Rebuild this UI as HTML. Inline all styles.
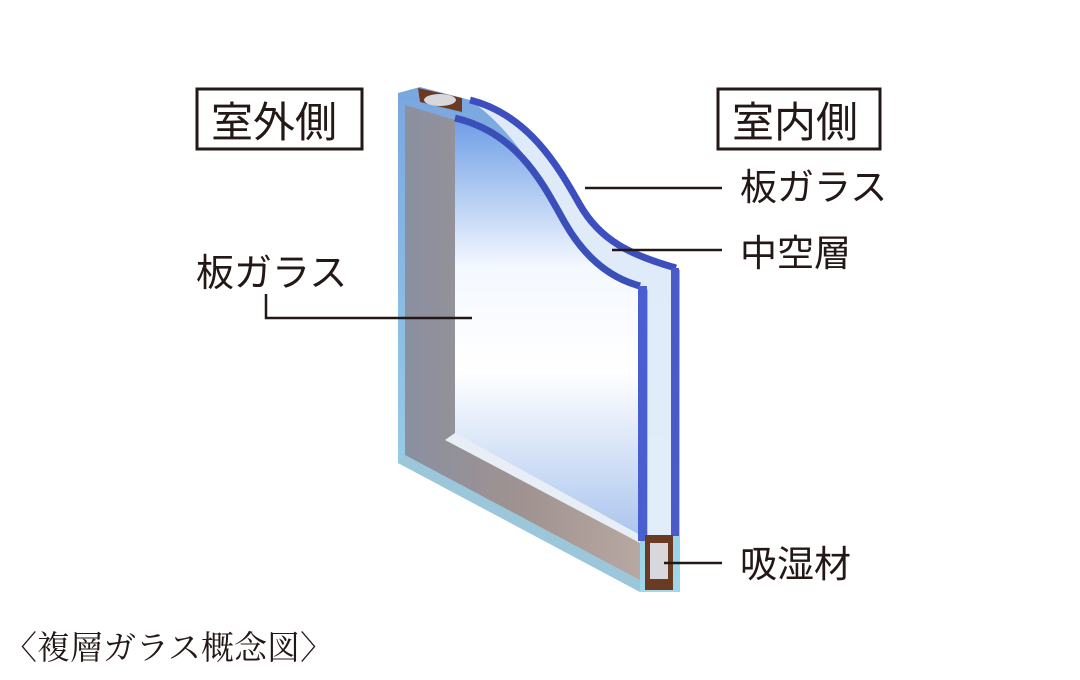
<!DOCTYPE html>
<html><head><meta charset="utf-8"><style>
html,body{margin:0;padding:0;background:#fff;width:1080px;height:680px;overflow:hidden}
svg{display:block}
text{font-family:"Liberation Sans","Noto Sans CJK JP",sans-serif;fill:#231815}
</style></head><body>
<svg width="1080" height="680" viewBox="0 0 1080 680">
<defs>
<linearGradient id="gl" x1="0" y1="0" x2="0" y2="1">
<stop offset="0" stop-color="#6f9ee6"/><stop offset="0.35" stop-color="#f4f8ff"/><stop offset="0.6" stop-color="#ffffff"/><stop offset="1" stop-color="#a9c4ee"/></linearGradient>
<linearGradient id="fr" x1="0" y1="0" x2="1" y2="0">
<stop offset="0" stop-color="#8a90a0"/><stop offset="0.5" stop-color="#a09290"/><stop offset="1" stop-color="#b8a8a2"/></linearGradient>
<linearGradient id="ol" x1="0" y1="0" x2="0" y2="1">
<stop offset="0" stop-color="#7aa6e0"/><stop offset="1" stop-color="#9fd8e8"/></linearGradient>
</defs>
<path d="M398 93 L420 87 L470 100 C530 115 560 170 580 205 C600 240 630 255 680 270 L680 592 L640 592 L398 463 Z" fill="url(#ol)"/>
<path d="M405 105 L455 120 L455 440 L640 540 L640 582 L405 458 Z" fill="url(#fr)"/>
<path d="M405 455 L640 580 L640 592 L398 463 Z" fill="#9cc7da"/>
<path d="M455 120 C520 135 545 190 565 225 C585 260 610 280 640 288 L640 540 L455 440 Z" fill="url(#gl)"/>
<path d="M445 440 L640 543 L640 535 L455 433 Z" fill="#e8eef6"/>
<path d="M640 288 C610 280 585 260 565 225 C545 190 520 135 470 100 C530 115 560 170 580 205 C600 240 630 255 672 268 L672 580 L648 580 L648 290 Z" fill="#e9f1fb" opacity="0.9"/>
<path d="M455 118 C520 133 545 188 565 223 C585 258 610 278 640 286" stroke="#3a4fb8" stroke-width="7" fill="none"/>
<path d="M470 100 C530 115 560 170 580 205 C600 240 630 255 676 268" stroke="#3d4fbf" stroke-width="7" fill="none"/>
<rect x="638" y="286" width="9" height="255" fill="#4a5fcf"/>
<rect x="671" y="268" width="8" height="268" fill="#4a5bc8"/>
<rect x="645" y="535" width="28" height="55" fill="#6b3a22"/>
<rect x="650" y="543" width="18" height="36" fill="#d8d8dc"/>
<path d="M418 88 L462 98 L462 112 L420 102 Z" fill="#6b3a22"/>
<ellipse cx="440" cy="100" rx="16" ry="6" fill="#d8d8dc"/>
<rect x="197" y="89" width="165" height="60" fill="none" stroke="#231815" stroke-width="3"/>
<text x="211" y="137" font-size="42">室外側</text>
<rect x="718" y="89" width="162" height="60" fill="none" stroke="#231815" stroke-width="3"/>
<text x="732" y="137" font-size="42">室内側</text>
<text x="740" y="200" font-size="37">板ガラス</text>
<text x="740" y="266" font-size="37">中空層</text>
<text x="740" y="577" font-size="37">吸湿材</text>
<text x="196" y="286" font-size="38">板ガラス</text>
<g stroke="#231815" stroke-width="2.5" fill="none">
<path d="M585 188 H722"/>
<path d="M612 250 H722"/>
<path d="M664 563 H722"/>
<path d="M266 294 V318 H472"/>
</g>
<text x="4" y="659" font-size="33" style="font-family:'Liberation Serif','Noto Serif CJK SC',serif">〈複層ガラス概念図〉</text>
</svg>
</body></html>
